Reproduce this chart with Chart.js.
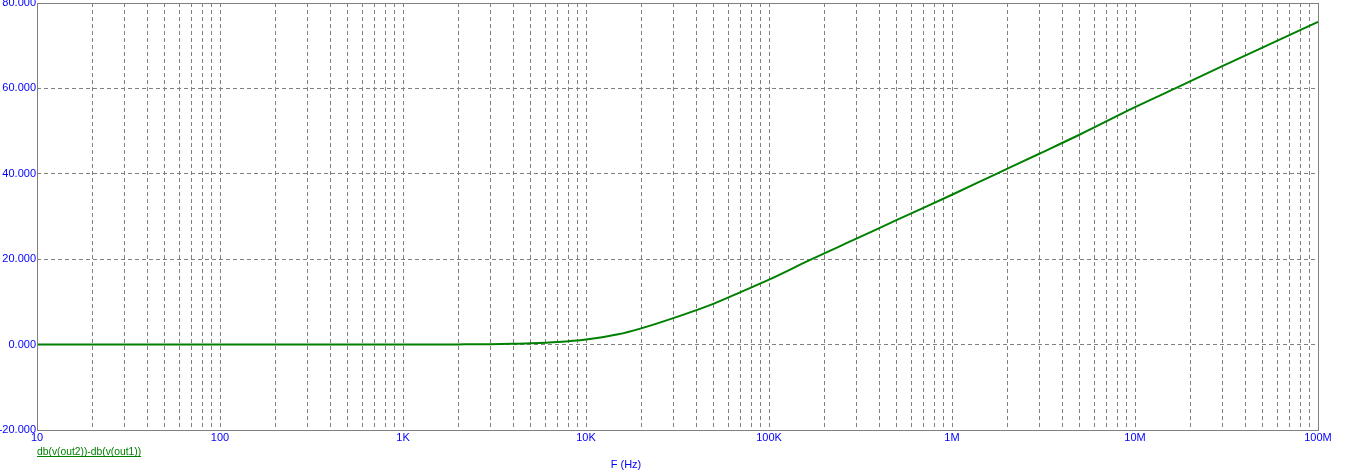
<!DOCTYPE html>
<html>
<head>
<meta charset="utf-8">
<script src="https://cdn.jsdelivr.net/npm/chart.js@4/dist/chart.umd.min.js"></script>
<style>
  html, body { margin: 0; padding: 0; background: #fff; }
  #wrap { width: 1347px; height: 476px; }
</style>
</head>
<body>
<div id="wrap"><canvas id="plot"></canvas></div>
<script>
// frequency points (Hz) and trace values (dB)
const freqs = [10, 100, 1000, 2000, 3000, 4000, 5000, 7000, 10000, 15000, 20000, 30000, 50000, 70000,
    100000, 171000, 300000, 500000, 1e6, 1.75e6, 3e6, 5e6, 1e7, 1.66e7, 3e7, 5e7, 1e8];
const gainDb = [0, 0, 0, 0.05, 0.1, 0.2, 0.3, 0.6, 1.2, 2.4, 3.8, 6.2, 9.6, 12.3,
    15.2, 20, 24.8, 29.2, 35.1, 40, 44.7, 49.2, 55.6, 60, 65.2, 69.6, 75.6];

const decades = [10, 100, 1e3, 1e4, 1e5, 1e6, 1e7, 1e8];
const decadeLabels = ['10', '100', '1K', '10K', '100K', '1M', '10M', '100M'];
const yTicks = [-20, 0, 20, 40, 60, 80];

const traceName = 'db(v(out2))-db(v(out1))';
const xTitle = 'F (Hz)';

const blue = '#0000ff';
const green = '#008000';
const gridGray = '#808080';
const font = { family: 'Liberation Sans, Arial, sans-serif', size: 11 };

// grid positions: 1..9 x each decade
const xTickValues = [];
decades.forEach((d, i) => {
    for (let m = 1; m <= 9; m++) {
        if (i === decades.length - 1 && m > 1) break;
        xTickValues.push(d * m);
    }
});

const textPlugin = {
    id: 'spiceText',
    afterDraw(chart) {
        const ctx = chart.ctx;
        const area = chart.chartArea;
        ctx.save();
        ctx.textBaseline = 'alphabetic';
        // trace legend
        ctx.font = '10.3px ' + font.family;
        ctx.fillStyle = green;
        ctx.textAlign = 'left';
        ctx.fillText(traceName, area.left, 455);
        const w = ctx.measureText(traceName).width;
        ctx.strokeStyle = green;
        ctx.lineWidth = 1;
        ctx.beginPath();
        ctx.moveTo(area.left, 456.5);
        ctx.lineTo(area.left + w, 456.5);
        ctx.stroke();
        // axis title
        ctx.font = '11px ' + font.family;
        ctx.fillStyle = blue;
        ctx.textAlign = 'center';
        ctx.fillText(xTitle, 626, 468);
        // plot border
        ctx.strokeStyle = gridGray;
        ctx.lineWidth = 1;
        ctx.strokeRect(Math.round(area.left) + 0.5, Math.round(area.top) + 0.5,
            Math.round(area.right - area.left), Math.round(area.bottom - area.top));
        ctx.restore();
    }
};

new Chart(document.getElementById('plot'), {
    type: 'line',
    data: {
        datasets: [{
            label: traceName,
            data: freqs.map((f, i) => ({ x: f, y: gainDb[i] })),
            borderColor: green,
            borderWidth: 2,
            pointRadius: 0,
            cubicInterpolationMode: 'monotone',
            fill: false
        }]
    },
    options: {
        responsive: true,
        maintainAspectRatio: false,
        animation: false,
        layout: { padding: { top: 3, right: 29, left: 0, bottom: 0 } },
        plugins: {
            legend: { display: false },
            tooltip: { enabled: false }
        },
        scales: {
            x: {
                type: 'logarithmic',
                min: 10,
                max: 1e8,
                afterBuildTicks(scale) {
                    scale.ticks = xTickValues.map(v => ({ value: v }));
                },
                afterFit(scale) {
                    scale.height = 46;
                    scale.paddingLeft = 0;
                    scale.paddingRight = 0;
                },
                ticks: {
                    autoSkip: false,
                    maxRotation: 0,
                    color: blue,
                    font: font,
                    padding: 1,
                    callback(value) {
                        const i = decades.indexOf(value);
                        return i >= 0 ? decadeLabels[i] : '';
                    }
                },
                grid: {
                    color: gridGray,
                    drawTicks: false,
                    lineWidth: 1
                },
                border: { display: false, dash: [4, 3] }
            },
            y: {
                min: -20,
                max: 80,
                afterBuildTicks(scale) {
                    scale.ticks = yTicks.map(v => ({ value: v }));
                },
                afterFit(scale) {
                    scale.width = 37;
                    scale.paddingTop = 0;
                    scale.paddingBottom = 0;
                },
                ticks: {
                    color: blue,
                    font: font,
                    padding: 1,
                    callback: v => v.toFixed(3)
                },
                grid: {
                    color: gridGray,
                    drawTicks: false,
                    lineWidth: 1
                },
                border: { display: false, dash: [4, 3] }
            }
        }
    },
    plugins: [textPlugin]
});
</script>
</body>
</html>
